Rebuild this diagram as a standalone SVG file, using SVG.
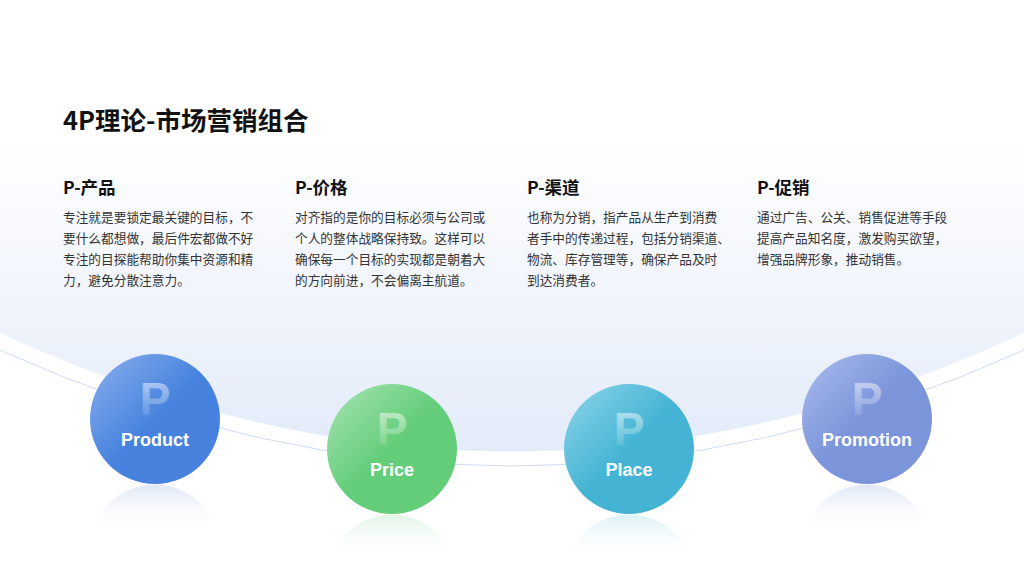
<svg xmlns="http://www.w3.org/2000/svg" width="1024" height="576" viewBox="0 0 1024 576">
<style>
.t{font-family:"Noto Sans CJK SC","Noto Sans",sans-serif;fill:#111}
.h{font-size:17.5px;font-weight:700}
.b{font-size:12.7px;fill:#333}
.lbl{font-family:"Liberation Sans",Arial,sans-serif;font-weight:700;font-size:18px;fill:#fff;text-anchor:middle}
.bigP{font-family:"Liberation Sans",Arial,sans-serif;font-weight:700;font-size:46px;text-anchor:middle}
</style>
<defs>
<linearGradient id="bg" x1="0" y1="0" x2="0" y2="1"><stop offset="0.3" stop-color="#fff"/><stop offset="1" stop-color="#e3ebf9"/></linearGradient>
<linearGradient id="pf" x1="0" y1="0" x2="0" y2="1"><stop offset="0" stop-color="#fff" stop-opacity="0.6"/><stop offset="1" stop-color="#fff" stop-opacity="0"/></linearGradient>
<linearGradient id="g1" x1="0" y1="0" x2="1" y2="1"><stop offset="0" stop-color="#8cb0ee"/><stop offset="0.5" stop-color="#4783de"/></linearGradient>
<linearGradient id="g2" x1="0" y1="0" x2="1" y2="1"><stop offset="0" stop-color="#a8e4b4"/><stop offset="0.5" stop-color="#63cd79"/></linearGradient>
<linearGradient id="g3" x1="0" y1="0" x2="1" y2="1"><stop offset="0" stop-color="#8fd5e8"/><stop offset="0.5" stop-color="#45b4d4"/></linearGradient>
<linearGradient id="g4" x1="0" y1="0" x2="1" y2="1"><stop offset="0" stop-color="#aabcee"/><stop offset="0.5" stop-color="#7b94da"/></linearGradient>
<linearGradient id="rf" x1="0" y1="0" x2="0" y2="1"><stop offset="0" stop-color="#c9d7f2" stop-opacity="0.6"/><stop offset="1" stop-color="#fff" stop-opacity="0"/></linearGradient>
<linearGradient id="rfg" x1="0" y1="0" x2="0" y2="1"><stop offset="0" stop-color="#cdeed4" stop-opacity="0.6"/><stop offset="1" stop-color="#fff" stop-opacity="0"/></linearGradient>
<linearGradient id="rfc" x1="0" y1="0" x2="0" y2="1"><stop offset="0" stop-color="#c5e8f1" stop-opacity="0.6"/><stop offset="1" stop-color="#fff" stop-opacity="0"/></linearGradient>
</defs>
<rect width="1024" height="576" fill="#fff"/>
<path d="M0,0 H1024 V333 Q512,570 0,333 Z" fill="url(#bg)"/>
<path d="M0,350 Q512,582 1024,350" fill="none" stroke="#cfdcf5" stroke-width="1"/>
<text class="t" x="63" y="130" font-size="25.5" font-weight="700">4P理论-市场营销组合</text>
<g id="col1"><text class="t h" x="63" y="194">P-产品</text>
<text class="t b" x="63" y="222">专注就是要锁定最关键的目标，不</text><text class="t b" x="63" y="243">要什么都想做，最后件宏都做不好</text><text class="t b" x="63" y="264">专注的目探能帮助你集中资源和精</text><text class="t b" x="63" y="285">力，避免分散注意力。</text></g>
<g id="col2"><text class="t h" x="295" y="194">P-价格</text>
<text class="t b" x="295" y="222">对齐指的是你的目标必须与公司或</text><text class="t b" x="295" y="243">个人的整体战略保持致。这样可以</text><text class="t b" x="295" y="264">确保每一个目标的实现都是朝着大</text><text class="t b" x="295" y="285">的方向前进，不会偏离主航道。</text></g>
<g id="col3"><text class="t h" x="527" y="194">P-渠道</text>
<text class="t b" x="527" y="222">也称为分销，指产品从生产到消费</text><text class="t b" x="527" y="243">者手中的传递过程，包括分销渠道、</text><text class="t b" x="527" y="264">物流、库存管理等，确保产品及时</text><text class="t b" x="527" y="285">到达消费者。</text></g>
<g id="col4"><text class="t h" x="757" y="194">P-促销</text>
<text class="t b" x="757" y="222">通过广告、公关、销售促进等手段</text><text class="t b" x="757" y="243">提高产品知名度，激发购买欲望，</text><text class="t b" x="757" y="264">增强品牌形象，推动销售。</text></g>
<g id="product"><path d="M93,530 A65,65 0 0 1 217,530 Z" fill="url(#rf)"/><circle cx="155" cy="419" r="65" fill="url(#g1)"/><text class="bigP" x="155" y="415" fill="url(#pf)">P</text><text class="lbl" x="155" y="446">Product</text></g>
<g id="price"><path d="M330,560 A65,65 0 0 1 454,560 Z" fill="url(#rfg)"/><circle cx="392" cy="449" r="65" fill="url(#g2)"/><text class="bigP" x="392" y="445" fill="url(#pf)">P</text><text class="lbl" x="392" y="476">Price</text></g>
<g id="place"><path d="M567,560 A65,65 0 0 1 691,560 Z" fill="url(#rfc)"/><circle cx="629" cy="449" r="65" fill="url(#g3)"/><text class="bigP" x="629" y="445" fill="url(#pf)">P</text><text class="lbl" x="629" y="476">Place</text></g>
<g id="promotion"><path d="M805,530 A65,65 0 0 1 929,530 Z" fill="url(#rf)"/><circle cx="867" cy="419" r="65" fill="url(#g4)"/><text class="bigP" x="867" y="415" fill="url(#pf)">P</text><text class="lbl" x="867" y="446">Promotion</text></g>
<g id="connectors"/>
</svg>
